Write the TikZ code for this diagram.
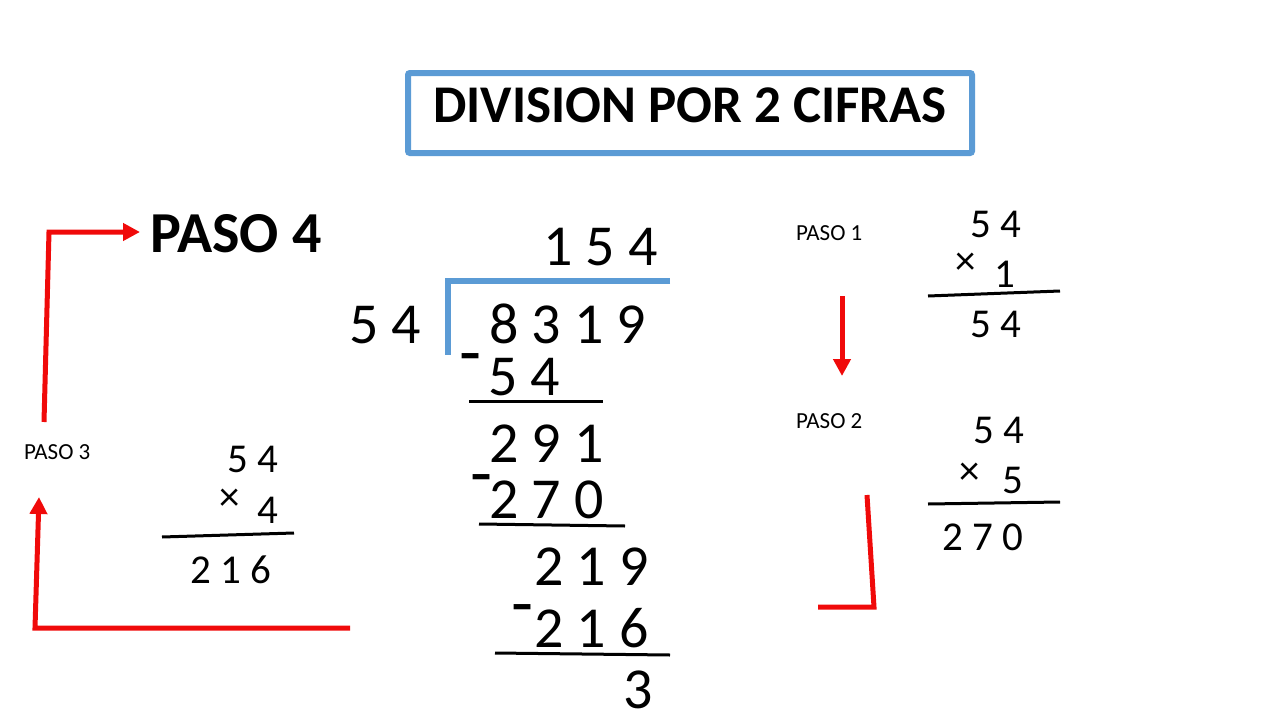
\documentclass[tikz,border=0pt]{standalone}
\usepackage{fontspec}
\setmainfont{Carlito}
\usetikzlibrary{arrows.meta}
\definecolor{frameblue}{RGB}{91,155,213}
\definecolor{arrowred}{RGB}{240,10,10}
\tikzset{
  big/.style={font=\fontsize{58}{60}\selectfont, inner sep=0, anchor=base west},
  minus/.style={font=\fontsize{72}{74}\selectfont, inner sep=0, anchor=base west},
  mid/.style={font=\fontsize{41}{44}\selectfont, inner sep=0, anchor=base west},
  small/.style={font=\fontsize{23}{25}\selectfont, inner sep=0, anchor=base west},
  heavy/.style={font=\fontsize{58}{60}\selectfont\bfseries, inner sep=0, anchor=base west},
  rule/.style={line width=3pt},
  redline/.style={arrowred, line width=5pt},
  redarrow/.style={redline, -{Triangle[length=17pt,width=17pt]}},
}
\begin{document}
\begin{tikzpicture}[x=1pt,y=-1pt]
\useasboundingbox (0,0) rectangle (1280,720);

% title
\node[draw=frameblue, line width=6pt, rounded corners=2pt, minimum width=564, minimum height=80, inner sep=0] (box) at (690,113) {};
\node[heavy, font=\fontsize{53}{56}\selectfont\bfseries, anchor=base] (title) at (690,122) {DIVISION POR 2 CIFRAS};

% long division
\draw[frameblue, line width=6pt] (670,281) -- (448,281) -- (448,355);
\node[big] (quot) at (543,265) {1 5 4};
\node[big] (dvsr) at (349,343) {5 4};
\node[big] (dvnd) at (489,343) {8 3 1 9};
\node[minus] (m1) at (459,376) {-};
\node[big] (sub1) at (488,395) {5 4};
\draw[rule] (469,401) -- (603,401);
\node[big] (rem1) at (489,462) {2 9 1};
\node[minus] (m2) at (470,497) {-};
\node[big] (sub2) at (489,518) {2 7 0};
\draw[rule] (479,524) -- (625,526);
\node[big] (rem2) at (534,585) {2 1 9};
\node[minus] (m3) at (511,627) {-};
\node[big] (sub3) at (534,647) {2 1 6};
\draw[rule] (495,653) -- (670,655);
\node[big] (rest) at (623,708) {3};

% PASO 1
\node[small] (paso1) at (796,240) {PASO 1};
\node[mid] (a1) at (970,237) {5 4};
\node[mid] (x1) at (955,274) {×};
\node[mid] (b1) at (994,287) {1};
\draw[rule] (928,296) -- (1060,291);
\node[mid] (c1) at (970,337) {5 4};

% PASO 2
\node[small] (paso2) at (796,428) {PASO 2};
\node[mid] (a2) at (973,443) {5 4};
\node[mid] (x2) at (959,484) {×};
\node[mid] (b2) at (1002,493) {5};
\draw[rule] (928,504) -- (1060,502);
\node[mid] (c2) at (942,550) {2 7 0};

% PASO 3
\node[small] (paso3) at (24,459) {PASO 3};
\node[mid] (a3) at (227,472) {5 4};
\node[mid] (x3) at (219,510) {×};
\node[mid] (b3) at (257,523) {4};
\draw[rule] (162,537) -- (294,533);
\node[mid] (c3) at (190,583) {2 1 6};

% PASO 4
\node[heavy] (paso4) at (150,252) {PASO 4};

% red arrows
\coordinate (s1) at (842,296);
\coordinate (e1) at (842,376);
\draw[redarrow] (s1) -- (e1);
\coordinate (s2) at (867,495);
\coordinate (e2) at (818,607);
\draw[redline] (s2) -- (874,607) -- (e2);
\coordinate (s3) at (350,628);
\coordinate (e3) at (39,497);
\draw[redarrow] (s3) -- (35,628) -- (e3);
\coordinate (s4) at (44,422);
\coordinate (e4) at (140,232);
\draw[redarrow] (s4) -- (49,232) -- (e4);
\end{tikzpicture}
\end{document}
